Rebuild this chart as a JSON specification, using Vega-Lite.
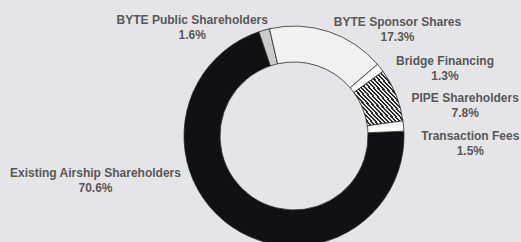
{
  "$schema": "https://vega.github.io/schema/vega-lite/v6.json",
  "width": 400,
  "height": 212,
  "autosize": "none",
  "padding": {"left": 94, "top": 30, "right": 27, "bottom": 0},
  "background": "#e5e5e7",
  "config": {"view": {"stroke": null}},
  "data": {
    "values": [
      {"category": "Existing Airship Shareholders", "share": 0.706, "order": 1},
      {"category": "BYTE Public Shareholders", "share": 0.016, "order": 2},
      {"category": "BYTE Sponsor Shares", "share": 0.173, "order": 3},
      {"category": "Bridge Financing", "share": 0.013, "order": 4},
      {"category": "PIPE Shareholders", "share": 0.078, "order": 5},
      {"category": "Transaction Fees", "share": 0.015, "order": 6}
    ]
  },
  "encoding": {
    "theta": {"field": "share", "type": "quantitative", "stack": true, "scale": {"range": [1.527, 7.810]}},
    "order": {"field": "order", "type": "quantitative"}
  },
  "layer": [
    {
      "mark": {"type": "arc", "outerRadius": 110, "innerRadius": 74, "stroke": "#2b2b2b", "strokeWidth": 0.8},
      "encoding": {
        "fill": {
          "condition": {
            "test": "datum.category === 'PIPE Shareholders'",
            "value": {
              "gradient": "linear", "x1": 0, "y1": 1, "x2": 1, "y2": 0,
              "stops": [
                {"offset": 0, "color": "#2a2a2a"}, {"offset": 0.0208, "color": "#2a2a2a"}, {"offset": 0.0208, "color": "#e6e6e6"}, {"offset": 0.0417, "color": "#e6e6e6"},
                {"offset": 0.0417, "color": "#2a2a2a"}, {"offset": 0.0625, "color": "#2a2a2a"}, {"offset": 0.0625, "color": "#e6e6e6"}, {"offset": 0.0833, "color": "#e6e6e6"},
                {"offset": 0.0833, "color": "#2a2a2a"}, {"offset": 0.1042, "color": "#2a2a2a"}, {"offset": 0.1042, "color": "#e6e6e6"}, {"offset": 0.125, "color": "#e6e6e6"},
                {"offset": 0.125, "color": "#2a2a2a"}, {"offset": 0.1458, "color": "#2a2a2a"}, {"offset": 0.1458, "color": "#e6e6e6"}, {"offset": 0.1667, "color": "#e6e6e6"},
                {"offset": 0.1667, "color": "#2a2a2a"}, {"offset": 0.1875, "color": "#2a2a2a"}, {"offset": 0.1875, "color": "#e6e6e6"}, {"offset": 0.2083, "color": "#e6e6e6"},
                {"offset": 0.2083, "color": "#2a2a2a"}, {"offset": 0.2292, "color": "#2a2a2a"}, {"offset": 0.2292, "color": "#e6e6e6"}, {"offset": 0.25, "color": "#e6e6e6"},
                {"offset": 0.25, "color": "#2a2a2a"}, {"offset": 0.2708, "color": "#2a2a2a"}, {"offset": 0.2708, "color": "#e6e6e6"}, {"offset": 0.2917, "color": "#e6e6e6"},
                {"offset": 0.2917, "color": "#2a2a2a"}, {"offset": 0.3125, "color": "#2a2a2a"}, {"offset": 0.3125, "color": "#e6e6e6"}, {"offset": 0.3333, "color": "#e6e6e6"},
                {"offset": 0.3333, "color": "#2a2a2a"}, {"offset": 0.3542, "color": "#2a2a2a"}, {"offset": 0.3542, "color": "#e6e6e6"}, {"offset": 0.375, "color": "#e6e6e6"},
                {"offset": 0.375, "color": "#2a2a2a"}, {"offset": 0.3958, "color": "#2a2a2a"}, {"offset": 0.3958, "color": "#e6e6e6"}, {"offset": 0.4167, "color": "#e6e6e6"},
                {"offset": 0.4167, "color": "#2a2a2a"}, {"offset": 0.4375, "color": "#2a2a2a"}, {"offset": 0.4375, "color": "#e6e6e6"}, {"offset": 0.4583, "color": "#e6e6e6"},
                {"offset": 0.4583, "color": "#2a2a2a"}, {"offset": 0.4792, "color": "#2a2a2a"}, {"offset": 0.4792, "color": "#e6e6e6"}, {"offset": 0.5, "color": "#e6e6e6"},
                {"offset": 0.5, "color": "#2a2a2a"}, {"offset": 0.5208, "color": "#2a2a2a"}, {"offset": 0.5208, "color": "#e6e6e6"}, {"offset": 0.5417, "color": "#e6e6e6"},
                {"offset": 0.5417, "color": "#2a2a2a"}, {"offset": 0.5625, "color": "#2a2a2a"}, {"offset": 0.5625, "color": "#e6e6e6"}, {"offset": 0.5833, "color": "#e6e6e6"},
                {"offset": 0.5833, "color": "#2a2a2a"}, {"offset": 0.6042, "color": "#2a2a2a"}, {"offset": 0.6042, "color": "#e6e6e6"}, {"offset": 0.625, "color": "#e6e6e6"},
                {"offset": 0.625, "color": "#2a2a2a"}, {"offset": 0.6458, "color": "#2a2a2a"}, {"offset": 0.6458, "color": "#e6e6e6"}, {"offset": 0.6667, "color": "#e6e6e6"},
                {"offset": 0.6667, "color": "#2a2a2a"}, {"offset": 0.6875, "color": "#2a2a2a"}, {"offset": 0.6875, "color": "#e6e6e6"}, {"offset": 0.7083, "color": "#e6e6e6"},
                {"offset": 0.7083, "color": "#2a2a2a"}, {"offset": 0.7292, "color": "#2a2a2a"}, {"offset": 0.7292, "color": "#e6e6e6"}, {"offset": 0.75, "color": "#e6e6e6"},
                {"offset": 0.75, "color": "#2a2a2a"}, {"offset": 0.7708, "color": "#2a2a2a"}, {"offset": 0.7708, "color": "#e6e6e6"}, {"offset": 0.7917, "color": "#e6e6e6"},
                {"offset": 0.7917, "color": "#2a2a2a"}, {"offset": 0.8125, "color": "#2a2a2a"}, {"offset": 0.8125, "color": "#e6e6e6"}, {"offset": 0.8333, "color": "#e6e6e6"},
                {"offset": 0.8333, "color": "#2a2a2a"}, {"offset": 0.8542, "color": "#2a2a2a"}, {"offset": 0.8542, "color": "#e6e6e6"}, {"offset": 0.875, "color": "#e6e6e6"},
                {"offset": 0.875, "color": "#2a2a2a"}, {"offset": 0.8958, "color": "#2a2a2a"}, {"offset": 0.8958, "color": "#e6e6e6"}, {"offset": 0.9167, "color": "#e6e6e6"},
                {"offset": 0.9167, "color": "#2a2a2a"}, {"offset": 0.9375, "color": "#2a2a2a"}, {"offset": 0.9375, "color": "#e6e6e6"}, {"offset": 0.9583, "color": "#e6e6e6"},
                {"offset": 0.9583, "color": "#2a2a2a"}, {"offset": 0.9792, "color": "#2a2a2a"}, {"offset": 0.9792, "color": "#e6e6e6"}, {"offset": 1, "color": "#e6e6e6"}
              ]
            }
          },
          "field": "category",
          "type": "nominal",
          "scale": {
            "domain": ["Existing Airship Shareholders", "BYTE Public Shareholders", "BYTE Sponsor Shares", "Bridge Financing", "PIPE Shareholders", "Transaction Fees"],
            "range": ["#111113", "#cbcbcb", "#f1f1f2", "#fbfbfb", "#888888", "#fbfbfb"]
          },
          "legend": null
        }
      }
    },
    {
      "mark": {
        "type": "text", "radius": 120, "align": "center", "baseline": "middle",
        "font": "Liberation Sans", "fontSize": 12, "fontWeight": "bold", "color": "#585858",
        "dx": {"expr": "120*((sin(1.527+3.14159*(datum.share_start+datum.share_end)/1.001)<0?-1:1)*sqrt(1-pow(max(cos(1.527+3.14159*(datum.share_start+datum.share_end)/1.001),-0.31),2))-sin(1.527+3.14159*(datum.share_start+datum.share_end)/1.001))+(sin(1.527+3.14159*(datum.share_start+datum.share_end)/1.001)<0?-1:1)*(3.05*length(datum.category)+2)+6"},
        "dy": {"expr": "-120*(max(cos(1.527+3.14159*(datum.share_start+datum.share_end)/1.001),-0.31)-cos(1.527+3.14159*(datum.share_start+datum.share_end)/1.001))+60*max(0,sin(1.527+3.14159*(datum.share_start+datum.share_end)/1.001)-0.8)+7-7.5"}
      },
      "encoding": {"text": {"field": "category", "type": "nominal"}}
    },
    {
      "mark": {
        "type": "text", "radius": 120, "align": "center", "baseline": "middle",
        "font": "Liberation Sans", "fontSize": 12, "fontWeight": "bold", "color": "#585858",
        "dx": {"expr": "120*((sin(1.527+3.14159*(datum.share_start+datum.share_end)/1.001)<0?-1:1)*sqrt(1-pow(max(cos(1.527+3.14159*(datum.share_start+datum.share_end)/1.001),-0.31),2))-sin(1.527+3.14159*(datum.share_start+datum.share_end)/1.001))+(sin(1.527+3.14159*(datum.share_start+datum.share_end)/1.001)<0?-1:1)*(3.05*length(datum.category)+2)+6"},
        "dy": {"expr": "-120*(max(cos(1.527+3.14159*(datum.share_start+datum.share_end)/1.001),-0.31)-cos(1.527+3.14159*(datum.share_start+datum.share_end)/1.001))+60*max(0,sin(1.527+3.14159*(datum.share_start+datum.share_end)/1.001)-0.8)+7+7.5"}
      },
      "encoding": {"text": {"field": "share", "type": "quantitative", "format": ".1%"}}
    }
  ]
}
